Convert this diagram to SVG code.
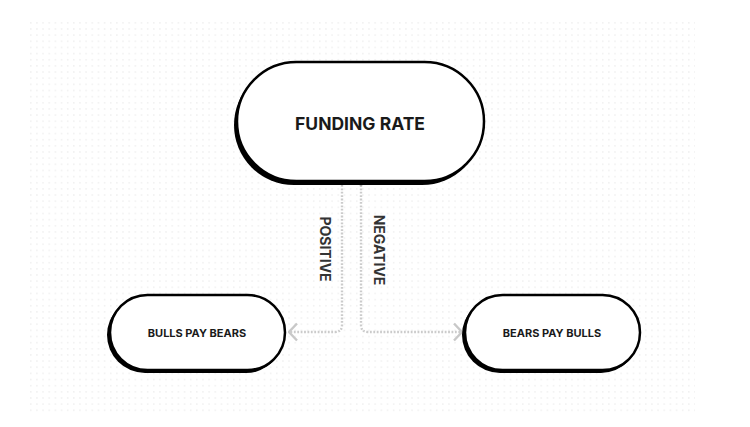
<svg xmlns="http://www.w3.org/2000/svg" width="750" height="427" viewBox="0 0 750 427">
<defs>
<pattern id="dots" x="30" y="22" width="6.15" height="6.15" patternUnits="userSpaceOnUse">
<circle cx="0.8" cy="0.8" r="0.75" fill="#ececec"/>
</pattern>
<marker id="chev" viewBox="0 0 10 20" refX="9" refY="10" markerWidth="10" markerHeight="20" markerUnits="userSpaceOnUse" orient="auto">
<path d="M1,1.5 L9,10 L1,18.5" fill="none" stroke="#c8c8c8" stroke-width="2.4"/>
</marker>
</defs>
<style>
.shadow{fill:#000}
.pill{fill:#fff;stroke:#000;stroke-width:2.5}
.lbl{font-family:Inter,"Liberation Sans",sans-serif;font-weight:700;fill:#1a1a1a;text-anchor:middle;dominant-baseline:central}
.edge{fill:none;stroke:#cbcbcb;stroke-width:2.4;stroke-dasharray:1.8 1.6}
.elbl{font-family:Inter,"Liberation Sans",sans-serif;font-weight:700;fill:#333;font-size:14px;text-anchor:middle;dominant-baseline:central}
</style>
<rect x="0" y="0" width="750" height="427" fill="#fff"/>
<rect x="30" y="22" width="665" height="393" fill="url(#dots)"/>
<g id="connectors">
<path class="edge" d="M342,185 V325 Q342,332 335,332 H289" marker-end="url(#chev)"/>
<path class="edge" d="M361,185 V325 Q361,332 368,332 H462" marker-end="url(#chev)"/>
<circle cx="342" cy="184" r="1.4" fill="#aaa"/>
<circle cx="361" cy="185" r="1.4" fill="#aaa"/>
<text class="elbl" transform="translate(325,249) rotate(90)">POSITIVE</text>
<text class="elbl" transform="translate(379,250) rotate(90)">NEGATIVE</text>
</g>
<g id="funding-rate">
<rect class="shadow" x="234" y="65" width="248" height="120" rx="60"/>
<rect class="pill" x="237" y="62" width="247" height="119" rx="59.5"/>
<text class="lbl" x="360" y="123" font-size="17.5">FUNDING RATE</text>
</g>
<g id="bulls-pay-bears">
<rect class="shadow" x="107" y="297" width="177" height="76" rx="38"/>
<rect class="pill" x="110" y="295" width="175" height="75" rx="37.5"/>
<text class="lbl" x="197" y="333" font-size="11">BULLS PAY BEARS</text>
</g>
<g id="bears-pay-bulls">
<rect class="shadow" x="462" y="297" width="177" height="76" rx="38"/>
<rect class="pill" x="465" y="295" width="175" height="75" rx="37.5"/>
<text class="lbl" x="552" y="333" font-size="11">BEARS PAY BULLS</text>
</g>
</svg>
